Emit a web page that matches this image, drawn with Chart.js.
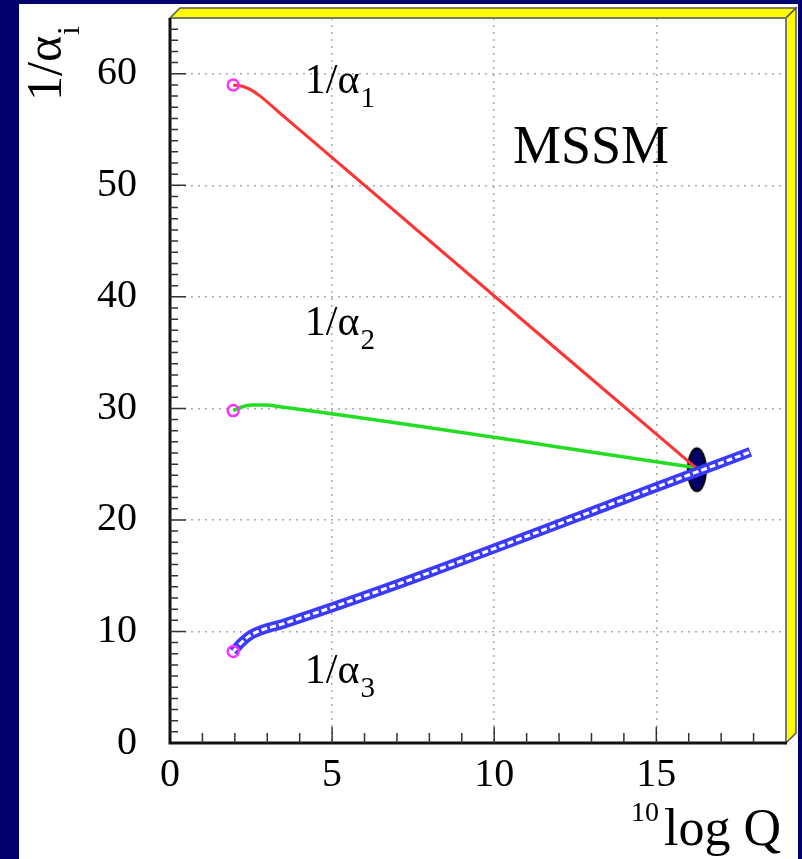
<!DOCTYPE html>
<html>
<head>
<meta charset="utf-8">
<script src="https://cdn.jsdelivr.net/npm/chart.js@4.4.0/dist/chart.umd.min.js"></script>
<style>
  body { margin: 0; background: #000070; }
  canvas { display: block; }
</style>
</head>
<body>
<canvas id="myChart" width="802" height="859"></canvas>
<script>
// values
const redX = [1.95, 2.2, 2.47, 2.78, 3.5, 16.25];
const redY = [59.0, 58.9, 58.6, 58.0, 56.2, 24.6];

const greenX = [1.95, 2.2, 2.5, 2.9, 3.5, 16.2];
const greenY = [29.8, 30.1, 30.3, 30.3, 30.1, 24.7];

const blueX = [1.95, 2.2, 2.5, 2.9, 3.5, 16.25, 17.9];
const blueY = [8.2, 9.0, 9.7, 10.2, 10.7, 24.3, 26.1];

const startX = [1.95, 1.95, 1.95];
const startY = [59.0, 29.8, 8.2];

const unifX = [16.25];
const unifY = [24.5];

const xTicks = [0, 5, 10, 15];
const yTicks = [0, 10, 20, 30, 40, 50, 60];

const serif = '"Liberation Serif", "DejaVu Serif", serif';

const pts = (xs, ys) => xs.map((x, i) => ({ x: x, y: ys[i] }));

// the dark ellipse at the unification point
const ell = document.createElement('canvas');
ell.width = 24; ell.height = 48;
const ec = ell.getContext('2d');
ec.beginPath();
ec.ellipse(12, 24, 9, 21.5, 0, 0, Math.PI * 2);
ec.fillStyle = '#000066';
ec.fill();
ec.lineWidth = 2;
ec.strokeStyle = '#000';
ec.stroke();

const frame = {
	id: 'frame',
	beforeDraw(chart) {
		const c = chart.ctx;
		c.save();
		c.fillStyle = '#000070';
		c.fillRect(0, 0, chart.width, chart.height);
		c.fillStyle = '#fff';
		c.fillRect(19, 4, 779, 855);
		c.restore();
	},
	afterDraw(chart) {
		const c = chart.ctx;
		const a = chart.chartArea;
		const xs = chart.scales.x, ys = chart.scales.y;
		c.save();

		// yellow 3d bevel on top and right
		c.fillStyle = '#ffff00';
		c.strokeStyle = '#555';
		c.lineWidth = 1.5;
		c.beginPath();
		c.moveTo(a.left, a.top);
		c.lineTo(a.left + 10, a.top - 10);
		c.lineTo(a.right + 10, a.top - 10);
		c.lineTo(a.right, a.top);
		c.closePath();
		c.fill(); c.stroke();
		c.beginPath();
		c.moveTo(a.right, a.top);
		c.lineTo(a.right + 10, a.top - 10);
		c.lineTo(a.right + 10, a.bottom - 10);
		c.lineTo(a.right, a.bottom);
		c.closePath();
		c.fill(); c.stroke();

		// frame lines
		c.strokeStyle = '#777';
		c.lineWidth = 1.5;
		c.beginPath();
		c.moveTo(a.left, a.top); c.lineTo(a.right, a.top); c.lineTo(a.right, a.bottom);
		c.stroke();
		c.strokeStyle = '#111';
		c.lineWidth = 3;
		c.beginPath();
		c.moveTo(a.left, a.top); c.lineTo(a.left, a.bottom); c.lineTo(a.right + 1, a.bottom);
		c.stroke();

		// inside ticks
		c.strokeStyle = '#333';
		c.lineWidth = 1.5;
		c.beginPath();
		for (let v = 1; v < 19; v++) {
			const px = xs.getPixelForValue(v);
			const len = v % 5 === 0 ? 16 : 10;
			c.moveTo(px, a.bottom); c.lineTo(px, a.bottom - len);
		}
		for (let v = 1; v < 65; v++) {
			const py = ys.getPixelForValue(v);
			const len = v % 10 === 0 ? 16 : 8;
			c.moveTo(a.left, py); c.lineTo(a.left + len, py);
		}
		c.stroke();

		c.fillStyle = '#000';
		c.textBaseline = 'alphabetic';
		const sub = (x, y, main, s, fm, fs, dy) => {
			c.font = fm + 'px ' + serif;
			c.fillText(main, x, y);
			const w = c.measureText(main).width;
			c.font = fs + 'px ' + serif;
			c.fillText(s, x + w + 1, y + dy);
		};

		// curve labels
		sub(xs.getPixelForValue(4.16), ys.getPixelForValue(58.3), '1/\u03b1', '1', 42, 29, 14);
		sub(xs.getPixelForValue(4.16), ys.getPixelForValue(36.6), '1/\u03b1', '2', 42, 29, 14);
		sub(xs.getPixelForValue(4.16), ys.getPixelForValue(5.4), '1/\u03b1', '3', 42, 29, 14);

		c.font = '54px ' + serif;
		c.fillText('MSSM', xs.getPixelForValue(10.58), ys.getPixelForValue(52.0));

		// y title, rotated
		c.save();
		c.translate(61, 101);
		c.rotate(-Math.PI / 2);
		sub(0, 0, '1/\u03b1', 'i', 50, 32, 18);
		c.restore();

		// x title
		c.font = '28px ' + serif;
		c.fillText('10', 631, 821);
		c.font = '52px ' + serif;
		c.fillText('log Q', 664, 845);

		c.restore();
	}
};

const ctx = document.getElementById('myChart').getContext('2d');
const myChart = new Chart(ctx, {
	type: 'scatter',
	plugins: [frame],
	data: {
		datasets: [
			{
				data: pts(unifX, unifY),
				pointStyle: ell,
				pointRadius: 12,
				order: 10
			},
			{
				data: pts(redX, redY),
				showLine: true,
				borderColor: '#ff3333',
				borderWidth: 3,
				pointRadius: 0,
				cubicInterpolationMode: 'monotone',
				order: 6
			},
			{
				data: pts(greenX, greenY),
				showLine: true,
				borderColor: '#22dd22',
				borderWidth: 3.5,
				pointRadius: 0,
				cubicInterpolationMode: 'monotone',
				order: 6
			},
			{
				data: pts(blueX, blueY),
				showLine: true,
				borderColor: '#3b3bff',
				borderWidth: 10,
				pointRadius: 0,
				cubicInterpolationMode: 'monotone',
				order: 4
			},
			{
				data: pts(blueX, blueY),
				showLine: true,
				borderColor: '#ffffff',
				borderWidth: 3,
				borderDash: [6, 3],
				pointRadius: 0,
				cubicInterpolationMode: 'monotone',
				order: 3
			},
			{
				data: pts(startX, startY),
				pointStyle: 'circle',
				pointRadius: 5.5,
				borderColor: '#ff33ff',
				borderWidth: 2.5,
				backgroundColor: 'rgba(255,255,255,0)',
				order: 1
			}
		]
	},
	options: {
		responsive: false,
		animation: false,
		layout: { padding: { left: 0, top: 18, right: 16, bottom: 0 } },
		plugins: {
			legend: { display: false },
			tooltip: { enabled: false }
		},
		scales: {
			x: {
				type: 'linear',
				min: 0,
				max: 19,
				afterFit: (s) => { s.height = 116; s.paddingLeft = 0; s.paddingRight = 0; },
				afterBuildTicks: (s) => { s.ticks = Array.from({ length: 20 }, (_, i) => ({ value: i })); },
				ticks: {
					autoSkip: false,
					maxRotation: 0,
					padding: 8,
					color: '#000',
					font: { family: serif, size: 40 },
					callback: (v) => xTicks.includes(v) ? String(v) : ''
				},
				grid: {
					drawTicks: false,
					lineWidth: 1.5,
					color: (c) => (c.tick && c.tick.value > 0 && xTicks.includes(c.tick.value)) ? '#aaaaaa' : 'rgba(0,0,0,0)'
				},
				border: { display: false, dash: [2, 5] }
			},
			y: {
				type: 'linear',
				min: 0,
				max: 65,
				afterFit: (s) => { s.width = 170; s.paddingTop = 0; s.paddingBottom = 0; },
				afterBuildTicks: (s) => { s.ticks = Array.from({ length: 66 }, (_, i) => ({ value: i })); },
				ticks: {
					autoSkip: false,
					padding: 33,
					color: '#000',
					font: { family: serif, size: 40 },
					callback: (v) => yTicks.includes(v) ? String(v) : ''
				},
				grid: {
					drawTicks: false,
					lineWidth: 1.5,
					color: (c) => (c.tick && c.tick.value > 0 && yTicks.includes(c.tick.value)) ? '#aaaaaa' : 'rgba(0,0,0,0)'
				},
				border: { display: false, dash: [2, 5] }
			}
		}
	}
});
</script>
</body>
</html>
